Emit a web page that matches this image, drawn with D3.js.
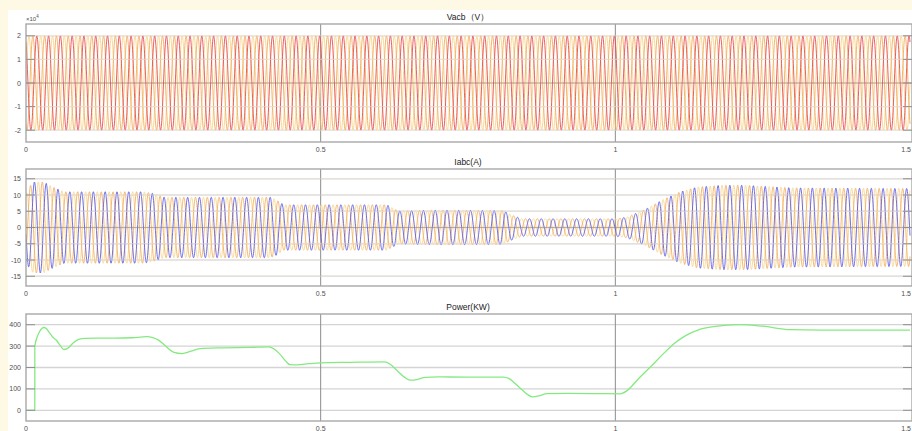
<!DOCTYPE html>
<html><head><meta charset="utf-8">
<script src="https://cdn.jsdelivr.net/npm/d3@7"></script>
<style>
html,body{margin:0;padding:0;background:#fdf9e4;}
svg{display:block;}
text{font-family:"Liberation Sans",Arial,sans-serif;}
</style></head>
<body>
<svg id="chart" width="912" height="431"></svg>
<script>
// ---------- data ----------
const xTicks = [0, 0.5, 1, 1.5];
const xTickLabels = ["0", "0.5", "1", "1.5"];
const freqHz = 50;

// Panel 1: three-phase voltage (units of 1e4 V)
const voltageTicks = [-2, -1, 0, 1, 2];
const voltageAmplitude = 2.0;          // x 10^4 V
const voltagePhaseNames = ["Va", "Vb", "Vc"];
const voltagePhaseDeg = [0, -120, 120];

// Panel 2: three-phase current envelope (A)
const currentTicks = [-15, -10, -5, 0, 5, 10, 15];
const currentEnvTimes = [0, 0.004, 0.012, 0.03, 0.045, 0.065, 0.2, 0.215, 0.235, 0.415, 0.425, 0.437, 0.612, 0.62, 0.632, 0.7, 0.81, 0.82, 0.84, 1.0, 1.02, 1.05, 1.08, 1.11, 1.14, 1.18, 1.22, 1.3, 1.5];
const currentEnvAmps  = [10, 12, 14, 14, 12.5, 11, 11, 10.5, 9.3, 9.3, 8.5, 7.0, 7.0, 6.2, 5.1, 5.3, 5.2, 4.2, 2.7, 2.7, 3.2, 5.5, 8.5, 11, 12.5, 13, 13, 12.2, 12];
const currentPhaseNames = ["Ia", "Ib", "Ic"];
const currentPhaseDeg = [72, -48, 192];

// Panel 3: power (kW)
const powerTicks = [0, 100, 200, 300, 400];
const powerTimes = [0, 0.0149, 0.015, 0.02, 0.026, 0.03, 0.034, 0.04, 0.046, 0.052, 0.058, 0.064, 0.07, 0.08, 0.092, 0.1, 0.12, 0.15, 0.18, 0.195, 0.205, 0.215, 0.225, 0.235, 0.25, 0.265, 0.28, 0.295, 0.33, 0.38, 0.412, 0.42, 0.43, 0.44, 0.448, 0.46, 0.48, 0.5, 0.55, 0.608, 0.618, 0.63, 0.642, 0.652, 0.665, 0.677, 0.7, 0.75, 0.81, 0.82, 0.83, 0.842, 0.852, 0.859, 0.87, 0.884, 0.92, 0.97, 1.008, 1.02, 1.04, 1.059, 1.08, 1.1, 1.12, 1.141, 1.17, 1.21, 1.25, 1.297, 1.35, 1.5];
const powerValues = [0, 0, 300, 350, 380, 387, 383, 362, 340, 326, 303, 284, 288, 315, 334, 336, 337, 337, 339, 342, 344, 340, 328, 305, 272, 265, 276, 288, 292, 294, 296, 288, 265, 232, 213, 212, 218, 222, 224, 226, 215, 185, 155, 141, 145, 154, 156, 155, 155, 148, 125, 95, 72, 63, 67, 78, 79, 78, 77, 92, 150, 201, 260, 312, 350, 376, 392, 400, 393, 377, 375, 375];

const panelTitles = ["Vacb\uFF08V\uFF09", "Iabc(A)", "Power(KW)"];
const voltageColors = ["#f6d68e", "#f2ad5f", "#e84c55"];
const currentColors = ["#f7d690", "#f2ad5a", "#5656e6"];
const powerColor = "#84ea80";

// ---------- layout ----------
const svg = d3.select("#chart");
svg.append("rect").attr("x", 8).attr("y", 10).attr("width", 904).attr("height", 421).attr("fill", "#ffffff");

const x = d3.scaleLinear().domain([0, 1.5]).range([26, 910]);
const panels = [
  {top: 24, bottom: 142, domain: [-2.5, 2.5], ticks: voltageTicks},
  {top: 169, bottom: 286, domain: [-18, 18], ticks: currentTicks},
  {top: 314, bottom: 421, domain: [-50, 450], ticks: powerTicks}
];

const timeStep = 0.0004;
const sampleTimes = d3.range(0, 1.5 + timeStep / 2, timeStep);
const envScale = d3.scaleLinear().domain(currentEnvTimes).range(currentEnvAmps);

panels.forEach((p, i) => {
  const y = d3.scaleLinear().domain(p.domain).range([p.bottom, p.top]);
  p.y = y;
  const g = svg.append("g");
  const clipId = "clip" + i;
  svg.append("clipPath").attr("id", clipId).append("rect")
    .attr("x", 26).attr("y", p.top).attr("width", 886).attr("height", p.bottom - p.top);

  // grid (below)
  const grid = g.append("g");
  grid.selectAll("line.h").data(p.ticks).join("line")
    .attr("x1", 26).attr("x2", 912)
    .attr("y1", d => y(d)).attr("y2", d => y(d))
    .attr("stroke", "#d4d4d4").attr("stroke-width", 1.3);
  grid.selectAll("line.v").data([0.5, 1]).join("line")
    .attr("x1", d => x(d)).attr("x2", d => x(d))
    .attr("y1", p.top).attr("y2", p.bottom)
    .attr("stroke", "#8c8c8c").attr("stroke-width", 1);

  const plot = g.append("g").attr("clip-path", `url(#${clipId})`);
  const line = d3.line().x(d => x(d[0])).y(d => y(d[1]));

  if (i === 0) {
    voltagePhaseDeg.forEach((deg, k) => {
      const pts = sampleTimes.map(t => [t, voltageAmplitude * Math.sin(2 * Math.PI * freqHz * t + deg * Math.PI / 180)]);
      plot.append("path").datum(pts).attr("d", line)
        .attr("fill", "none").attr("stroke", voltageColors[k]).attr("stroke-width", 1).attr("opacity", 0.9);
    });
  } else if (i === 1) {
    currentPhaseDeg.forEach((deg, k) => {
      const pts = sampleTimes.map(t => [t, envScale(t) * Math.sin(2 * Math.PI * freqHz * t + deg * Math.PI / 180)]);
      plot.append("path").datum(pts).attr("d", line)
        .attr("fill", "none").attr("stroke", currentColors[k]).attr("stroke-width", 1).attr("opacity", 0.85);
    });
  } else {
    const pts = powerTimes.map((t, k) => [t, powerValues[k]]);
    plot.append("path").datum(pts)
      .attr("d", line.curve(d3.curveMonotoneX))
      .attr("fill", "none").attr("stroke", powerColor).attr("stroke-width", 1.3);
  }

  // faint horizontal grid on top (scope style)
  if (i < 2) {
    g.append("g").selectAll("line").data(p.ticks).join("line")
      .attr("x1", 26).attr("x2", 912)
      .attr("y1", d => y(d)).attr("y2", d => y(d))
      .attr("stroke", d => d === 0 ? "#9a8a80" : "#fff6ea").attr("stroke-width", 1).attr("opacity", 0.5);
  }

  // frame
  g.append("rect").attr("x", 26).attr("y", p.top).attr("width", 886).attr("height", p.bottom - p.top)
    .attr("fill", "none").attr("stroke", "#a8a8a8").attr("stroke-width", 1.4);

  // tick marks (inside, left and right)
  g.append("g").selectAll("line").data(p.ticks).join("line")
    .attr("x1", 26).attr("x2", 35).attr("y1", d => y(d)).attr("y2", d => y(d))
    .attr("stroke", "#909090").attr("stroke-width", 1);
  g.append("g").selectAll("line").data(p.ticks).join("line")
    .attr("x1", 903).attr("x2", 912).attr("y1", d => y(d)).attr("y2", d => y(d))
    .attr("stroke", "#909090").attr("stroke-width", 1);

  // y tick labels
  g.append("g").selectAll("text").data(p.ticks).join("text")
    .attr("x", 21).attr("y", d => y(d) + 2.5)
    .attr("text-anchor", "end").attr("font-size", 7).attr("fill", "#505050")
    .text(d => String(d));

  // x tick labels (last one kept inside the window)
  g.append("g").selectAll("text").data(xTicks).join("text")
    .attr("x", (d, k) => k === xTicks.length - 1 ? 911 : x(d)).attr("y", p.bottom + 9.5)
    .attr("text-anchor", (d, k) => k === xTicks.length - 1 ? "end" : "middle")
    .attr("font-size", 7).attr("fill", "#505050")
    .text((d, k) => xTickLabels[k]);

  // title
  g.append("text").attr("x", 468).attr("y", p.top - 4)
    .attr("text-anchor", "middle").attr("font-size", 8.5).attr("fill", "#222")
    .text(panelTitles[i]);
});

// exponent label
const ex = svg.append("text").attr("x", 26).attr("y", 20.5).attr("font-size", 6).attr("fill", "#505050");
ex.append("tspan").text("\u00D710");
ex.append("tspan").attr("dy", -3).attr("font-size", 4.5).text("4");
</script>
</body></html>
